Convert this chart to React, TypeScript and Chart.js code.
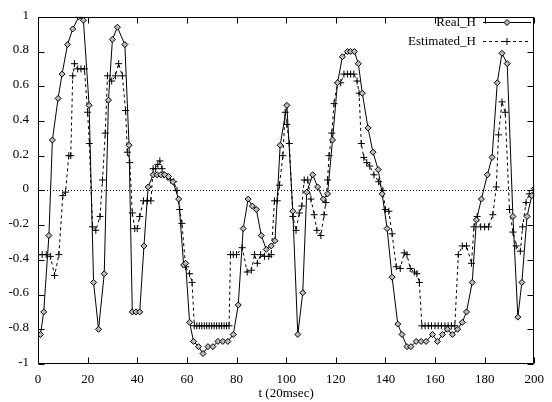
import { useEffect, useRef } from "react";
import { Chart, registerables } from "chart.js";

Chart.register(...registerables);

const seriesNames = ["Real_H", "Estimated_H"];
const xTitle = "t (20msec)";
const xTicks = [0, 20, 40, 60, 80, 100, 120, 140, 160, 180, 200];
const yTicks = [-1, -0.8, -0.6, -0.4, -0.2, 0, 0.2, 0.4, 0.6, 0.8, 1];

const realT = [
  1, 2.3, 4.4, 5.8, 8.1, 9.7, 11.9, 14, 16.4, 18.3, 20.6, 22.4, 24.4, 26.7, 28.4, 30, 32, 35, 36.7,
  38, 39.5, 41, 42.7, 44.4, 46.4, 48, 49.5, 51, 52.6, 54.4, 56.7, 58.7, 59.5, 61.1, 62.7, 64.7, 66.5,
  68.5, 70.5, 72.5, 74.5, 76.5, 78.7, 80.7, 82.7, 84.7, 86.4, 88, 90, 92, 94, 95.5, 97.6, 100.3, 102.7,
  104.7, 106.7, 108.3, 110.7, 112.7, 115, 116.7, 118.7, 120.7, 122.7, 124.7, 126, 127.5, 129.1, 130.7,
  133, 135, 137.1, 138.7, 140.7, 142.7, 145, 146.7, 148.7, 150.3, 152.4, 154.4, 156.4, 159, 161, 163,
  165, 167, 169.1, 171, 172.7, 175, 176.7, 178.7, 181.1, 183, 185.1, 187, 189.1, 191.4, 193.4, 195,
  197.1, 199, 200,
];
const realH = [
  -0.83, -0.7, -0.26, 0.29, 0.53, 0.67, 0.84, 0.93, 1.0, 0.98, 0.49, -0.53, -0.8, -0.48, 0.52, 0.87, 0.94, 0.84, 0.26,
  -0.7, -0.7, -0.7, -0.32, 0.02, 0.09, 0.09, 0.09, 0.09, 0.08, 0.05, -0.05, -0.43, -0.42, -0.76, -0.87, -0.9, -0.94,
  -0.9, -0.9, -0.87, -0.87, -0.87, -0.83, -0.66, -0.22, -0.05, -0.09, -0.11, -0.26, -0.34, -0.32, -0.29, 0.26, 0.49, -0.12,
  -0.83, -0.59, -0.01, 0.09, 0.02, -0.05, -0.02, 0.29, 0.62, 0.77, 0.8, 0.8, 0.8, 0.73, 0.56,
  0.36, 0.22, 0.12, -0.02, -0.22, -0.5, -0.77, -0.83, -0.9, -0.9, -0.87, -0.87, -0.87, -0.83, -0.87, -0.83,
  -0.8, -0.83, -0.8, -0.76, -0.7, -0.53, -0.17, -0.05, 0.09, 0.19, 0.62, 0.79, 0.73, -0.15, -0.73, -0.53,
  -0.15, -0.03, 0.01,
];

const estT = [
  0, 1.7, 3.3, 5, 6.7, 8.4, 10, 11.1, 12.4, 13.2, 14, 14.7, 16, 17.3, 18.7, 20, 20.7, 22, 23.3, 25, 26, 27.1, 28,
  29.7, 31.2, 32.5, 34, 35.3, 36, 37, 38, 39, 40, 41, 42.5, 44, 45.5, 46.4, 47.4, 48.3, 49.1, 50, 50.7, 52, 53.4,
  54.7, 56, 57.1, 58, 59.5, 61.1, 62.1, 63, 64, 65, 66, 67, 68, 69, 70, 71, 72, 73, 74, 75, 76, 77, 77.6, 78.7, 80,
  82.3, 84.3, 86, 87.3, 88.4, 89.7, 91.3, 93, 94, 95.3, 96.4, 97.3, 98.7, 99.6, 100.3, 101.3, 102.7, 104, 105.3,
  106.3, 107.3, 108.7, 110, 111.3, 112.4, 114, 115.3, 116, 116.7, 117.3, 118.4, 119.3, 120.7, 122, 123.3, 124.7,
  126, 127.3, 128.6, 129.4, 130.3, 131.3, 132.5, 133.7, 135.4, 137.3, 139, 140, 141.4, 142.7, 144.4, 146, 147.6,
  148.7, 150, 151.7, 152.7, 153.7, 154.7, 156, 157.3, 158.6, 160, 161.3, 162.6, 164, 165.3, 166.6, 168, 169.4, 171,
  172.7, 174.7, 175.7, 177, 178.4, 180, 181.6, 183.3, 184.7, 185.6, 187, 188.3, 190, 191.4, 192.7, 194.4, 195.3,
  196.7, 198, 199.7,
];
const estH = [
  -0.37, -0.37, -0.37, -0.38, -0.49, -0.37, -0.03, -0.01, 0.2, 0.2, 0.66, 0.73, 0.7, 0.7, 0.7, 0.45, 0.27, -0.21, -0.23, -0.15, 0.06, 0.33, 0.66,
  0.63, 0.66, 0.73, 0.66, 0.46, 0.22, 0.16, -0.13, -0.22, -0.22, -0.15, -0.06, -0.06, -0.06, 0.125, 0.125, 0.15, 0.17, 0.125, 0.09, 0.08, 0.06,
  0.05, 0.0, -0.11, -0.19, -0.44, -0.48, -0.53, -0.78, -0.78, -0.78, -0.78, -0.78, -0.78, -0.78, -0.78, -0.78, -0.78, -0.78, -0.78, -0.78, -0.78, -0.78, -0.37, -0.37, -0.37,
  -0.33, -0.47, -0.46, -0.37, -0.42, -0.37, -0.38, -0.38, -0.37, -0.06, -0.06, 0.03, 0.2, 0.45, 0.38, 0.27, -0.15, -0.23, -0.13,
  -0.09, 0.06, 0.06, -0.05, -0.14, -0.23, -0.26, -0.14, -0.07, 0.06, 0.2, 0.33, 0.5, 0.62, 0.62, 0.67, 0.67,
  0.67, 0.67, 0.63, 0.56, 0.27, 0.19, 0.16, 0.14, 0.09, 0.05, 0.0, -0.11, -0.12, -0.25, -0.44, -0.45, -0.36,
  -0.37, -0.45, -0.47, -0.48, -0.53, -0.78, -0.78, -0.78, -0.78, -0.78, -0.78, -0.78, -0.78, -0.78, -0.78, -0.78, -0.37, -0.32,
  -0.32, -0.42, -0.21, -0.15, -0.21, -0.21, -0.21, -0.14, 0.02, 0.32, 0.51, 0.45, -0.11, -0.24, -0.32, -0.35, -0.21,
  -0.07, -0.02, -0.02,
];

const FONT = "'Liberation Serif', 'DejaVu Serif', serif";
const TICK = 6;

function drawDiamond(ctx: CanvasRenderingContext2D, x: number, y: number, r: number) {
  ctx.beginPath();
  ctx.moveTo(x, y - r);
  ctx.lineTo(x + r, y);
  ctx.lineTo(x, y + r);
  ctx.lineTo(x - r, y);
  ctx.closePath();
  ctx.fillStyle = "#bbbbbb";
  ctx.fill();
  ctx.stroke();
}

const framePlugin = {
  id: "gnuframe",
  beforeDatasetsDraw(chart: any) {
    const { ctx, chartArea: a, scales } = chart;
    const y0 = Math.round(scales.y.getPixelForValue(0)) + 0.5;
    ctx.save();
    ctx.strokeStyle = "#000";
    ctx.lineWidth = 1;
    ctx.setLineDash([1, 2]);
    ctx.beginPath();
    ctx.moveTo(a.left, y0);
    ctx.lineTo(a.right, y0);
    ctx.stroke();
    ctx.restore();
  },
  afterDraw(chart: any) {
    const { ctx, chartArea: a, scales } = chart;
    ctx.save();
    ctx.strokeStyle = "#000";
    ctx.lineWidth = 1;
    ctx.setLineDash([]);
    const L = Math.round(a.left) + 0.5;
    const R = Math.round(a.right) - 0.5;
    const T = Math.round(a.top) + 0.5;
    const B = Math.round(a.bottom) - 0.5;
    ctx.beginPath();
    ctx.rect(L, T, R - L, B - T);
    for (const v of xTicks) {
      const px = Math.round(scales.x.getPixelForValue(v)) + 0.5;
      ctx.moveTo(px, B);
      ctx.lineTo(px, B - TICK);
      ctx.moveTo(px, T);
      ctx.lineTo(px, T + TICK);
    }
    for (const v of yTicks) {
      const py = Math.round(scales.y.getPixelForValue(v)) + 0.5;
      ctx.moveTo(L, py);
      ctx.lineTo(L + TICK, py);
      ctx.moveTo(R, py);
      ctx.lineTo(R - TICK, py);
    }
    ctx.stroke();

    // legend
    ctx.font = `13px ${FONT}`;
    ctx.fillStyle = "#000";
    ctx.textAlign = "right";
    ctx.textBaseline = "middle";
    const textR = 476;
    const lx1 = 483;
    const lx2 = 531;
    const mid = (lx1 + lx2) / 2;
    const rows = [22.5, 41.5];
    ctx.fillText(seriesNames[0], textR, rows[0]);
    ctx.fillText(seriesNames[1], textR, rows[1]);
    ctx.beginPath();
    ctx.moveTo(lx1, rows[0]);
    ctx.lineTo(lx2, rows[0]);
    ctx.stroke();
    drawDiamond(ctx, mid, rows[0], 3);
    ctx.setLineDash([3, 3]);
    ctx.beginPath();
    ctx.moveTo(lx1, rows[1]);
    ctx.lineTo(lx2, rows[1]);
    ctx.stroke();
    ctx.setLineDash([]);
    ctx.beginPath();
    ctx.moveTo(mid - 3.5, rows[1]);
    ctx.lineTo(mid + 3.5, rows[1]);
    ctx.moveTo(mid, rows[1] - 3.5);
    ctx.lineTo(mid, rows[1] + 3.5);
    ctx.stroke();
    ctx.restore();
  },
};

export default function App() {
  const ref = useRef<HTMLCanvasElement>(null);
  useEffect(() => {
    if (!ref.current) return;
    const chart = new Chart(ref.current, {
      type: "line",
      data: {
        datasets: [
          {
            label: seriesNames[0],
            data: realT.map((t, i) => ({ x: t, y: realH[i] })),
            borderColor: "#000",
            borderWidth: 1,
            backgroundColor: "#bbbbbb",
            pointStyle: "rectRot",
            pointRadius: 3,
            pointBorderWidth: 1,
            pointBorderColor: "#000",
            pointBackgroundColor: "#bbbbbb",
            tension: 0,
          },
          {
            label: seriesNames[1],
            data: estT.map((t, i) => ({ x: t, y: estH[i] })),
            borderColor: "#000",
            borderWidth: 1,
            borderDash: [3, 3],
            pointStyle: "cross",
            pointRadius: 3.5,
            pointBorderWidth: 1,
            pointBorderColor: "#000",
            tension: 0,
          },
        ],
      },
      plugins: [framePlugin],
      options: {
        animation: false,
        responsive: true,
        maintainAspectRatio: false,
        layout: { padding: { top: 15, right: 12, left: 0, bottom: 0 } },
        plugins: { legend: { display: false }, tooltip: { enabled: false } },
        scales: {
          x: {
            type: "linear",
            min: 0,
            max: 200,
            afterFit: (s: any) => {
              s.height = 38;
            },
            afterBuildTicks: (s: any) => {
              s.ticks = xTicks.map((v) => ({ value: v }));
            },
            grid: { display: false, drawTicks: false },
            border: { display: false },
            ticks: {
              padding: 8,
              color: "#000",
              font: { family: FONT, size: 13 },
              maxRotation: 0,
              autoSkip: false,
            },
            title: {
              display: true,
              text: xTitle,
              color: "#000",
              font: { family: FONT, size: 13 },
              padding: { top: 0, bottom: 1 },
            },
          },
          y: {
            type: "linear",
            min: -1,
            max: 1,
            afterFit: (s: any) => {
              s.width = 38;
            },
            afterBuildTicks: (s: any) => {
              s.ticks = yTicks.map((v) => ({ value: v }));
            },
            grid: { display: false, drawTicks: false },
            border: { display: false },
            ticks: {
              padding: 9,
              labelOffset: -1.5,
              color: "#000",
              font: { family: FONT, size: 13 },
              autoSkip: false,
              callback: (v: any) => String(parseFloat(Number(v).toFixed(1))),
            },
          },
        },
      },
    });
    return () => chart.destroy();
  }, []);
  return (
    <div style={{ position: "fixed", left: 0, top: 0, width: 552, height: 402, background: "#fff" }}>
      <canvas ref={ref} />
    </div>
  );
}
